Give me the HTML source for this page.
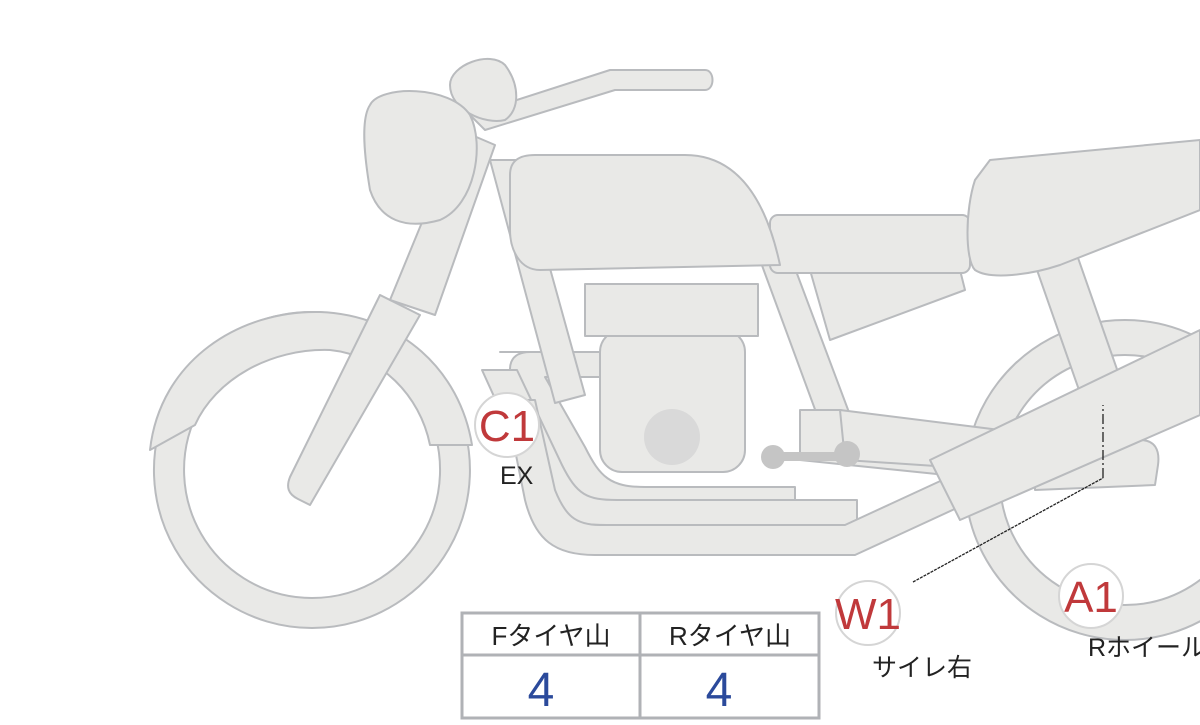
<!DOCTYPE html>
<html><head><meta charset="utf-8"><style>
body{margin:0;background:#fff;width:1200px;height:720px;overflow:hidden;font-family:"Liberation Sans","Noto Sans CJK JP",sans-serif}
</style></head><body>
<svg width="1200" height="720" viewBox="0 0 1200 720" xmlns="http://www.w3.org/2000/svg">
<g fill="#e9e9e7" stroke="#b9bbbe" stroke-width="2" stroke-linejoin="round">
<path fill-rule="evenodd" d="M1125 320a160 160 0 1 1 -0.1 0zM1125 355a125 125 0 1 0 0.1 0z"/>
<path d="M1030 250l40 -15 70 200 -40 15z"/>
<path fill-rule="evenodd" d="M312 312a158 158 0 1 1 -0.1 0zM312 342a128 128 0 1 0 0.1 0z"/>
<path d="M150 450C160 360 240 310 320 312C400 315 460 370 472 445L430 445C420 395 380 355 330 350C270 348 215 380 195 425Z"/>
<path d="M500 352h100v25h-55l40 70c15 30 25 40 60 40h150v20h-170c-40 0-55-10-70-40l-40-80c-10-20-5-35 15-35z"/>
<path d="M482 370l50 110c20 40 35 45 75 45h250v-25h-240c-30 0-40-5-55-35l-45-95z"/>
<path d="M505 400l20 100c10 40 30 55 70 55h260l130-60 -10-30 -130 60h-245c-25 0-35-10-45-35l-20-90z"/>
<path d="M490 160l30 0 65 235 -30 8z"/>
<path d="M760 260l30-5 60 160 -30 8z"/>
<path d="M800 410l40 0 150 30 5 40-195-20z"/>
<path d="M840 410l160 20 -5 40 -150-10z"/>
<path d="M1035 460l105-20c15 0 20 10 18 25l-3 20-120 5z"/>
<rect x="600" y="330" width="145" height="142" rx="22"/>
<rect x="585" y="284" width="173" height="52"/>
<circle cx="672" cy="437" r="28" fill="#d9d9d9" stroke="none"/>
<path d="M810 270l150 0 5 20 -135 50z"/>
<rect x="770" y="215" width="200" height="58" rx="8"/>
<path d="M510 175c0-15 10-20 25-20h150c50 0 80 40 95 110l-240 5c-20 0-30-20-30-40z"/>
<path d="M990 160l210-20v70l-140 55c-30 10-70 15-85 5-10-10-10-60 0-90z"/>
<path d="M930 460l270-130v85l-240 105z"/>
<path d="M380 295l40 20 -110 190 -12 -6c-10-5-12-12-8-22z"/>
<path d="M390 300l70-170 35 15 -60 170z"/>
<path d="M470 115l140-45h95c10 0 10 20 0 20h-90l-130 40z"/>
<path d="M450 85c0-20 40-35 55-20 15 20 15 45 0 55-20 5-55-10-55-35z"/>
<path d="M370 105c10-20 80-20 100 10 15 30 5 90-30 105-35 10-60 0-70-30-5-30-10-70 0-85z"/>
</g>
<g fill="#c5c5c5"><rect x="772" y="452" width="75" height="9"/><circle cx="773" cy="457" r="12"/><circle cx="847" cy="454" r="13"/></g>
<path d="M913 582L1103 478" stroke="#222" stroke-width="1.3" stroke-dasharray="3 1"/>
<path d="M1103 478V405" stroke="#222" stroke-width="1.3" stroke-dasharray="10 3 2 3"/>
<g fill="#fff" stroke="#d5d5d5" stroke-width="2">
<circle cx="507" cy="425" r="32"/><circle cx="868" cy="613" r="32"/><circle cx="1091" cy="596" r="32"/>
</g>
<g fill="#c0393b" font-size="44" text-anchor="middle" font-family="Liberation Sans,sans-serif">
<text x="507" y="441">C1</text><text x="868" y="629">W1</text><text x="1091" y="612">A1</text>
</g>
<g fill="#222" font-size="25" font-family="Liberation Sans,Noto Sans CJK JP,sans-serif">
<text x="500" y="484">EX</text><text x="872" y="676">サイレ右</text><text x="1088" y="656">Rホイール</text>
</g>
<g fill="none" stroke="#b0b2b6" stroke-width="3">
<rect x="462" y="613" width="357" height="105"/>
<line x1="462" y1="655" x2="819" y2="655"/><line x1="640" y1="613" x2="640" y2="718"/>
</g>
<g font-size="26" fill="#222" text-anchor="middle" font-family="Liberation Sans,Noto Sans CJK JP,sans-serif">
<text x="551" y="645">Fタイヤ山</text><text x="730" y="645">Rタイヤ山</text>
</g>
<g font-size="48" fill="#2b4a9b" text-anchor="middle">
<text x="541" y="706">4</text><text x="719" y="706">4</text>
</g>
</svg>
</body></html>
